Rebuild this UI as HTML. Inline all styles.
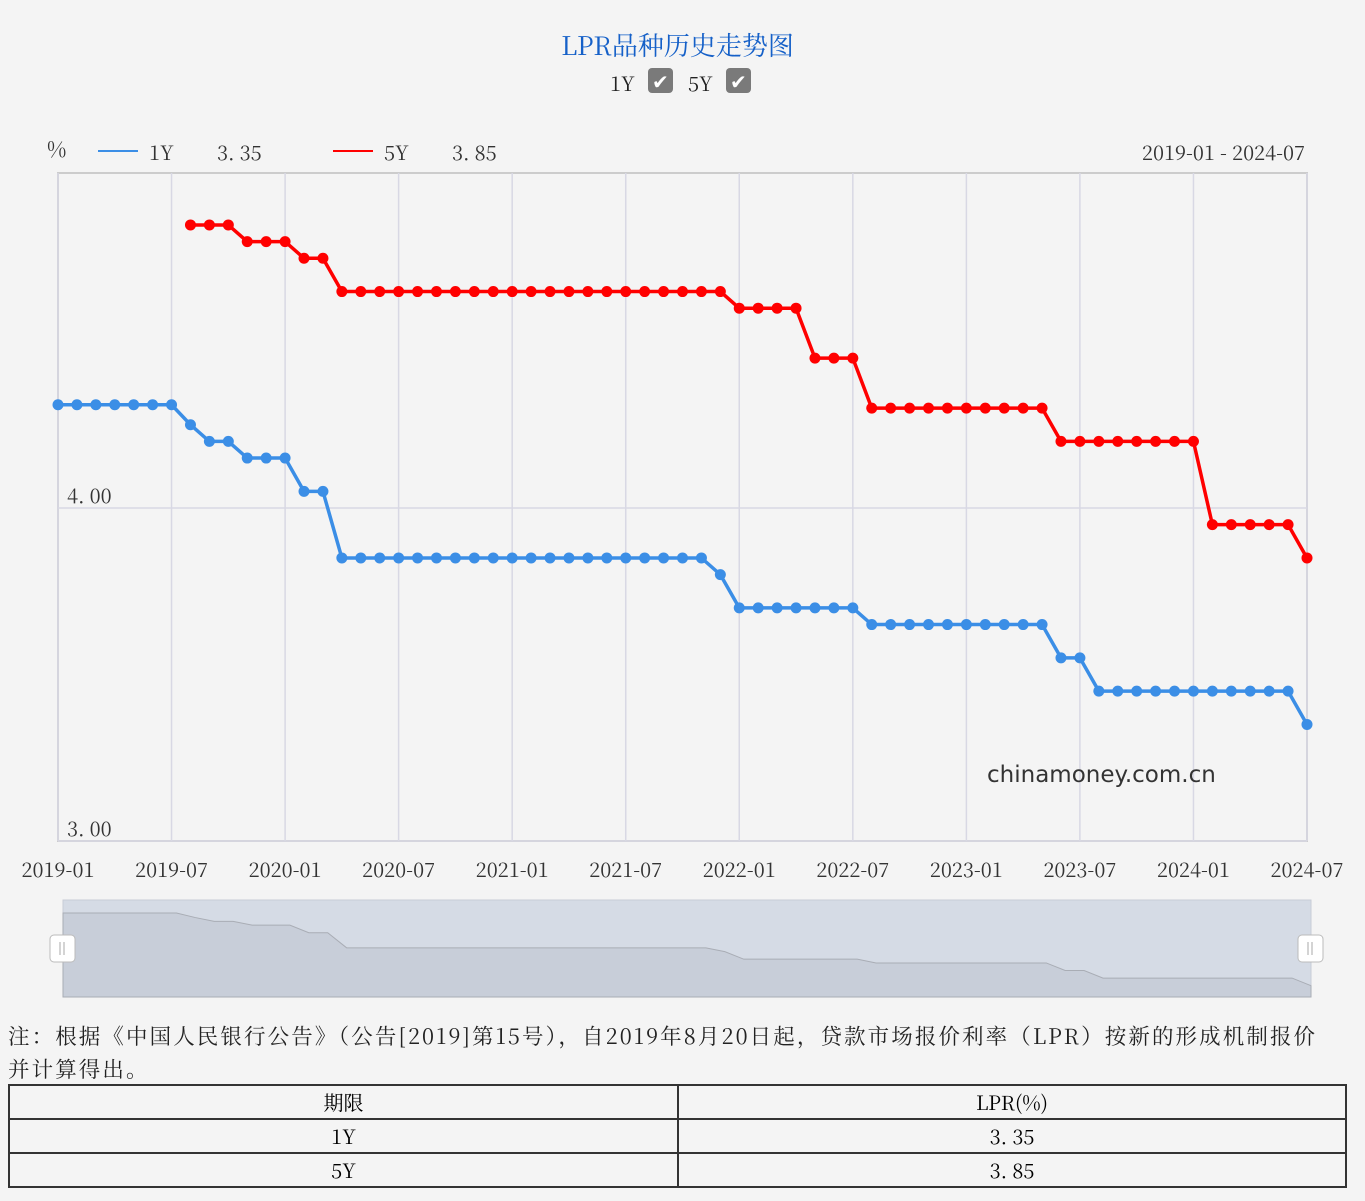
<!DOCTYPE html>
<html><head><meta charset="utf-8"><style>
body{margin:0;background:#f4f4f4;width:1365px;height:1201px;overflow:hidden;font-family:"Noto Serif CJK SC","Liberation Serif",serif;}
.t{position:absolute;}
table{position:absolute;left:8px;top:1084px;width:1339px;border-collapse:collapse;font-size:20px;table-layout:fixed;}
td{border:2px solid #333;text-align:center;height:32px;padding:0;line-height:30px;}
</style></head><body>
<div class="t" style="left:0;width:1355px;top:26px;text-align:center;font-size:26px;color:#1560c8;line-height:38px;">LPR品种历史走势图</div>
<div class="t" style="left:610px;top:68px;font-size:20px;color:#222;line-height:30px;">
<span>1Y</span>
<span style="display:inline-block;width:25px;height:25px;background:#7a7a7a;border-radius:4px;color:#fff;text-align:center;line-height:25px;font-size:20px;vertical-align:2px;margin:0 10px 0 8px;">✔</span>
<span>5Y</span>
<span style="display:inline-block;width:25px;height:25px;background:#7a7a7a;border-radius:4px;color:#fff;text-align:center;line-height:25px;font-size:20px;vertical-align:2px;margin-left:8px;">✔</span>
</div>
<svg id="c" width="1365" height="1010" style="position:absolute;left:0;top:0;font-family:'Noto Serif CJK SC','Liberation Serif',serif"></svg>
<div class="t" style="left:8px;top:1019px;width:1350px;font-size:21.5px;line-height:33px;color:#222;letter-spacing:2.1px;white-space:nowrap;">注：根据《中国人民银行公告》（公告[2019]第15号），自2019年8月20日起，贷款市场报价利率（LPR）按新的形成机制报价<br>并计算得出。</div>
<table>
<colgroup><col style="width:669px"><col></colgroup>
<tr><td>期限</td><td>LPR(%)</td></tr>
<tr><td>1Y</td><td>3. 35</td></tr>
<tr><td>5Y</td><td>3. 85</td></tr>
</table>
<script>
const xLabels=["2019-01","2019-07","2020-01","2020-07","2021-01","2021-07","2022-01","2022-07","2023-01","2023-07","2024-01","2024-07"];
const yTicks=[3.00,4.00];
const s1y=[4.31,4.31,4.31,4.31,4.31,4.31,4.31,4.25,4.20,4.20,4.15,4.15,4.15,4.05,4.05,3.85,3.85,3.85,3.85,3.85,3.85,3.85,3.85,3.85,3.85,3.85,3.85,3.85,3.85,3.85,3.85,3.85,3.85,3.85,3.85,3.80,3.70,3.70,3.70,3.70,3.70,3.70,3.70,3.65,3.65,3.65,3.65,3.65,3.65,3.65,3.65,3.65,3.65,3.55,3.55,3.45,3.45,3.45,3.45,3.45,3.45,3.45,3.45,3.45,3.45,3.45,3.35];
const s5y=[null,null,null,null,null,null,null,4.85,4.85,4.85,4.80,4.80,4.80,4.75,4.75,4.65,4.65,4.65,4.65,4.65,4.65,4.65,4.65,4.65,4.65,4.65,4.65,4.65,4.65,4.65,4.65,4.65,4.65,4.65,4.65,4.65,4.60,4.60,4.60,4.60,4.45,4.45,4.45,4.30,4.30,4.30,4.30,4.30,4.30,4.30,4.30,4.30,4.30,4.20,4.20,4.20,4.20,4.20,4.20,4.20,4.20,3.95,3.95,3.95,3.95,3.95,3.85];
const svg=document.getElementById('c');const NS='http://www.w3.org/2000/svg';
function el(t,a,txt){const e=document.createElementNS(NS,t);for(const k in a)e.setAttribute(k,a[k]);if(txt!=null)e.textContent=txt;svg.appendChild(e);return e;}
const L=58,R=1307,T=173,B=841,N=s1y.length;
const x=i=>L+(R-L)*i/(N-1);
const y=v=>B-(v-3)*(B-508);
let e;
e=el('rect',{x:L,y:T,width:R-L,height:B-T,fill:'none',stroke:'#ccc','stroke-width':2});


xLabels.forEach((l,k)=>{const xx=x(k*6);
 e=el('line',{x1:xx,x2:xx,y1:T,y2:B,stroke:'#d8d8e4','stroke-width':1.5});
 
 
 e=el('text',{x:xx,y:877,'text-anchor':'middle','font-size':20,fill:'#333'},l);
 
 });
yTicks.forEach(v=>{
 e=el('line',{x1:L,x2:R,y1:y(v),y2:y(v),stroke:'#d8d8e4','stroke-width':1.5});
 
 
 e=el('text',{x:67,y:y(v)-5,'font-size':20,fill:'#333'},v.toFixed(2).replace('.','. '));
 
 });
e=el('text',{x:47,y:157,'font-size':21,fill:'#333'},'%');


e=el('text',{x:1305,y:160,'font-size':20,fill:'#333','text-anchor':'end'},'2019-01 - 2024-07');


[[98,'#3b8ee6','1Y','3. 35'],[333,'#f00','5Y','3. 85']].forEach(([lx,c,n,v])=>{
 e=el('line',{x1:lx,x2:lx+40,y1:151,y2:151,stroke:c,'stroke-width':2});
 
 
 e=el('text',{x:lx+51,y:160,'font-size':20,fill:'#333'},n);
 
 
 e=el('text',{x:lx+119,y:160,'font-size':20,fill:'#333'},v);
 
 });
e=el('text',{x:987,y:782,'font-size':23,fill:'#333','font-family':'DejaVu Sans, sans-serif'},'chinamoney.com.cn');


function series(d,c,name){let p='';d.forEach((v,i)=>{if(v==null)return;p+=(p?'L':'M')+x(i)+','+y(v);});
 e=el('path',{d:p,fill:'none',stroke:c,'stroke-width':3.5});
 
 
 d.forEach((v,i)=>{if(v==null)return;e=el('circle',{cx:x(i),cy:y(v),r:5.5,fill:c});
 
 });}
series(s5y,'#f00','5y');series(s1y,'#3b8ee6','1y');
const ZL=63,ZR=1311,ZT=900,ZB=997;
e=el('rect',{x:ZL,y:ZT,width:ZR-ZL,height:ZB-ZT,fill:'#d5dbe5',stroke:'#c8ccd6'});


const zx=i=>ZL+(ZR-ZL)*i/(N-1),zy=v=>ZB-(v-3.2)/(4.35-3.2)*(ZB-ZT-10);
let zp='M'+ZL+','+ZB;s1y.forEach((v,i)=>zp+='L'+zx(i)+','+zy(v));zp+='L'+ZR+','+ZB+'Z';
e=el('path',{d:zp,fill:'#c8ced9',stroke:'#a9adb5','stroke-width':1});


[ZL-13,ZR-13].forEach(hx=>{e=el('rect',{x:hx,y:935,width:25,height:27,rx:4,fill:'#fff',stroke:'#bbb'});
 
 
 e=el('path',{d:`M${hx+10},942V955M${hx+14},942V955`,stroke:'#aaa'});
 
 });
</script>
</body></html>
